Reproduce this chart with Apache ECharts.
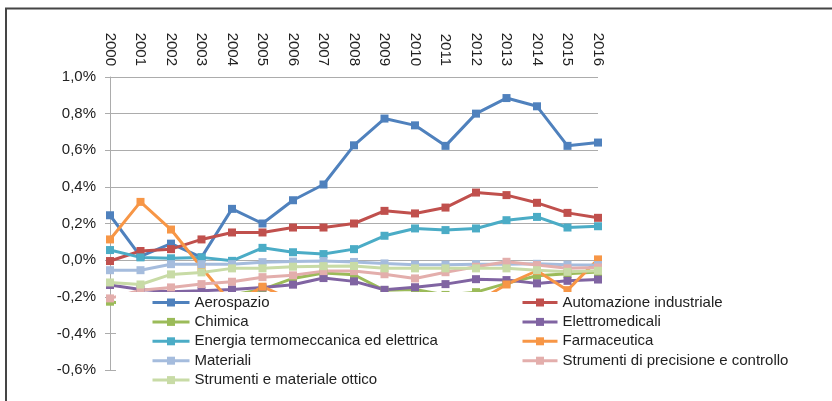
<!DOCTYPE html>
<html lang="it">
<head>
    <meta charset="UTF-8">
    <title>Settori</title>
    <style>
        * {
            margin: 0;
            padding: 0;
        }
        html, body {
            width: 100%;
            height: 100%;
            background: #fff;
        }
        #chart {
            width: 832px;
            height: 401px;
        }
    </style>
    <script src="https://cdn.jsdelivr.net/npm/echarts@6/dist/echarts.min.js"></script>
</head>
<body>
<div id="chart"></div>
<script>
    // anni (asse categorie in alto)
    const years = ['2000', '2001', '2002', '2003', '2004', '2005', '2006', '2007', '2008',
        '2009', '2010', '2011', '2012', '2013', '2014', '2015', '2016']

    // valori in %
    const aerospazio = [0.245, 0.02, 0.09, 0.015, 0.28, 0.2, 0.327, 0.413, 0.627, 0.773, 0.736, 0.624, 0.80, 0.885, 0.84, 0.624, 0.642]
    const automazione = [-0.005, 0.05, 0.06, 0.113, 0.151, 0.151, 0.178, 0.178, 0.20, 0.269, 0.255, 0.287, 0.369, 0.355, 0.313, 0.258, 0.231]
    const chimica = [-0.227, -0.25, -0.24, -0.22, -0.19, -0.16, -0.10, -0.07, -0.08, -0.165, -0.16, -0.19, -0.175, -0.127, -0.085, -0.075, -0.065]
    const elettromedicali = [-0.136, -0.16, -0.173, -0.167, -0.16, -0.149, -0.134, -0.098, -0.116, -0.162, -0.148, -0.131, -0.104, -0.109, -0.127, -0.113, -0.106]
    const energia = [0.055, 0.015, 0.01, 0.015, -0.004, 0.067, 0.043, 0.033, 0.06, 0.133, 0.173, 0.164, 0.173, 0.218, 0.236, 0.178, 0.185]
    const farmaceutica = [0.113, 0.318, 0.167, -0.04, -0.24, -0.145, -0.22, -0.26, -0.3, -0.32, -0.3, -0.27, -0.23, -0.133, -0.058, -0.164, 0.004]
    const materiali = [-0.055, -0.055, -0.022, -0.022, -0.022, -0.011, -0.008, -0.005, -0.01, -0.018, -0.025, -0.025, -0.022, -0.022, -0.02, -0.025, -0.027]
    const precisione = [-0.209, -0.164, -0.149, -0.131, -0.118, -0.093, -0.083, -0.06, -0.06, -0.077, -0.1, -0.066, -0.036, -0.009, -0.027, -0.045, -0.04]
    const ottico = [-0.122, -0.133, -0.078, -0.067, -0.045, -0.045, -0.036, -0.033, -0.032, -0.045, -0.045, -0.045, -0.045, -0.045, -0.055, -0.064, -0.058]

    // tacche asse y
    const yMin = -0.6
    const yMax = 1.0
    const yStep = 0.2

    const names = ['Aerospazio', 'Automazione industriale', 'Chimica', 'Elettromedicali',
        'Energia termomeccanica ed elettrica', 'Farmaceutica', 'Materiali',
        'Strumenti di precisione e controllo', 'Strumenti e materiale ottico']
    const values = [aerospazio, automazione, chimica, elettromedicali, energia,
        farmaceutica, materiali, precisione, ottico]
    const colors = ['#4f81bd', '#c0504d', '#9bbb59', '#8064a2', '#4bacc6',
        '#f79646', '#a5bcdd', '#e3aeac', '#c8dba6']

    const font = 'Liberation Sans'
    const gridColor = '#acacac'

    let chart = echarts.init(document.getElementById('chart'), null, {renderer: 'canvas'})

    let series = names.map(function (n, i) {
        return {
            name: n,
            type: 'line',
            data: values[i],
            symbol: 'rect',
            symbolSize: 8,
            lineStyle: {width: 3, color: colors[i]},
            itemStyle: {color: colors[i]},
            emphasis: {disabled: true},
            animation: false
        }
    })

    let legendText = {fontFamily: font, fontSize: 15, color: '#222', lineHeight: 15}

    let option = {
        animation: false,
        color: colors,
        grid: {left: 110, right: 234, top: 77, bottom: 31},
        xAxis: [
            {
                type: 'category',
                data: years,
                position: 'top',
                boundaryGap: false,
                axisLine: {show: false, onZero: false},
                axisTick: {show: false},
                splitLine: {show: false},
                axisLabel: {
                    rotate: 90,
                    margin: 11,
                    fontFamily: font,
                    fontSize: 15,
                    color: '#222'
                }
            },
            {
                type: 'category',
                data: years,
                position: 'bottom',
                boundaryGap: false,
                axisLine: {show: true, onZero: true, lineStyle: {color: gridColor, width: 1}},
                axisTick: {show: true, length: 4, lineStyle: {color: gridColor}},
                axisLabel: {show: false},
                splitLine: {show: false}
            }
        ],
        yAxis: {
            type: 'value',
            min: yMin,
            max: yMax,
            interval: yStep,
            axisLine: {show: true, lineStyle: {color: gridColor, width: 1}},
            axisTick: {show: true, length: 5, lineStyle: {color: gridColor}},
            splitLine: {show: true, lineStyle: {color: gridColor, width: 1}},
            axisLabel: {
                margin: 14,
                fontFamily: font,
                fontSize: 15,
                color: '#222',
                formatter: function (v) {
                    return v.toFixed(1).replace('.', ',') + '%'
                }
            }
        },
        legend: [
            {
                orient: 'vertical',
                zlevel: 1,
                z: 10,
                left: 151,
                top: 295,
                padding: 0,
                itemGap: 4.4,
                itemWidth: 37,
                itemHeight: 10,
                selectedMode: false,
                lineStyle: {width: 3},
                data: [names[0], names[2], names[4], names[6], names[8]],
                textStyle: legendText
            },
            {
                orient: 'vertical',
                zlevel: 1,
                z: 10,
                left: 521,
                top: 295,
                padding: 0,
                itemGap: 4.4,
                itemWidth: 35,
                itemHeight: 10,
                selectedMode: false,
                lineStyle: {width: 3},
                data: [names[1], names[3], names[5], names[7]],
                textStyle: legendText
            }
        ],
        graphic: [
            {
                type: 'rect',
                zlevel: 1,
                z: 0,
                shape: {x: 116, y: 292, width: 700, height: 105},
                style: {fill: '#fff'},
                silent: true
            },
            {
                type: 'rect',
                zlevel: 1,
                z: 20,
                shape: {x: 6, y: 8.5, width: 900, height: 500},
                style: {fill: 'none', stroke: '#454545', lineWidth: 2},
                silent: true
            }
        ],
        series: series
    }
    chart.setOption(option, true)
</script>
</body>
</html>
